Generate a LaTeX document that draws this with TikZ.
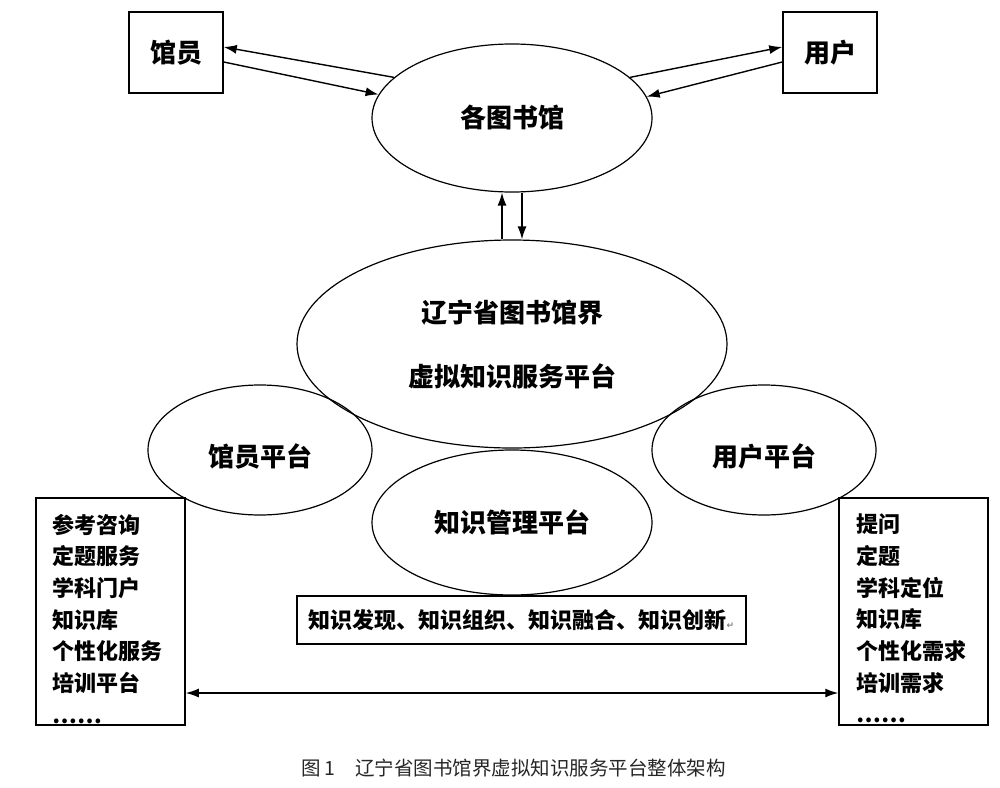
\documentclass[tikz,border=0pt]{standalone}
\usepackage{fontspec}
\setmainfont{Noto Sans CJK SC}
\newfontfamily\symfont{DejaVu Sans}
\usetikzlibrary{shapes.geometric,arrows.meta}

\begin{document}
\begin{tikzpicture}[x=1pt,y=-1pt,>={Latex[length=13pt,width=9pt]},line width=1.2pt,
  oval/.style={draw,ellipse,inner sep=0pt,font=\fontsize{26}{30}\selectfont\bfseries},
  lowtext/.style={text height=37pt,text depth=5pt},
  person/.style={draw,line width=1.5pt,minimum width=94pt,minimum height=81pt,inner sep=0pt,font=\fontsize{26}{30}\selectfont\bfseries},
  listbox/.style={draw,line width=1.5pt,minimum width=149pt,minimum height=227pt,inner sep=0pt},
  listtext/.style={anchor=north west,align=left,inner sep=0pt,font=\fontsize{22}{31.7}\selectfont\bfseries},
  link/.style={line width=1.4pt}]
\useasboundingbox (0,0) rectangle (1000,787);

\node[person] (gy) at (176,52.5) {馆员};
\node[person] (yh) at (830,52.5) {用户};
\node[oval,minimum width=280pt,minimum height=148pt] (lib) at (512,118) {各图书馆};

\node[oval,minimum width=430pt,minimum height=208pt,align=center,font=\fontsize{26}{64}\selectfont\bfseries] (vp) at (512,344) {辽宁省图书馆界\\虚拟知识服务平台};
\node[oval,lowtext,minimum width=224pt,minimum height=130pt] (gyp) at (260,450) {馆员平台};
\node[oval,lowtext,minimum width=224pt,minimum height=130pt] (yhp) at (764,450) {用户平台};
\node[oval,minimum width=280pt,minimum height=145pt] (km) at (512,522.5) {知识管理平台};

\node[draw,line width=1.5pt,minimum width=449pt,minimum height=48pt,inner sep=0pt,font=\fontsize{22}{26}\selectfont\bfseries] (kt) at (521.5,620) {知识发现、知识组织、知识融合、知识创新{\symfont\fontsize{9}{9}\selectfont\color{gray}↵}};

\node[listbox] (lb) at (110.5,611.5) {};
\node[listbox] (rb) at (913.5,611.5) {};
\node[listtext] (lt) at ([xshift=17pt,yshift=-16pt]lb.north west) {参考咨询\\定题服务\\学科门户\\知识库\\个性化服务\\培训平台\\……};
\node[listtext] (rt) at ([xshift=18pt,yshift=-16pt]rb.north west) {提问\\定题\\学科定位\\知识库\\个性化需求\\培训需求\\……};

\draw[link,->] (lib.161) -- ([yshift=5.5pt]gy.east);
\draw[link,->] ([yshift=-9.5pt]gy.east) -- (lib.170);
\draw[link,->] (lib.19) -- ([yshift=5.5pt]yh.west);
\draw[link,->] ([yshift=-9.5pt]yh.west) -- (lib.9);

\draw[link,->] ([xshift=-10pt]vp.north) -- ([xshift=-10pt]lib.south);
\draw[link,->] ([xshift=10pt]lib.south) -- ([xshift=10pt]vp.north);

\draw[link,<->] ([yshift=-81.5pt]lb.east) -- ([yshift=-81.5pt]rb.west);

\node[font=\fontsize{19.5}{22}\selectfont,text=black!85] (cap) at (513.5,768) {图\,1\hspace{20pt}辽宁省图书馆界虚拟知识服务平台整体架构};
\end{tikzpicture}
\end{document}
